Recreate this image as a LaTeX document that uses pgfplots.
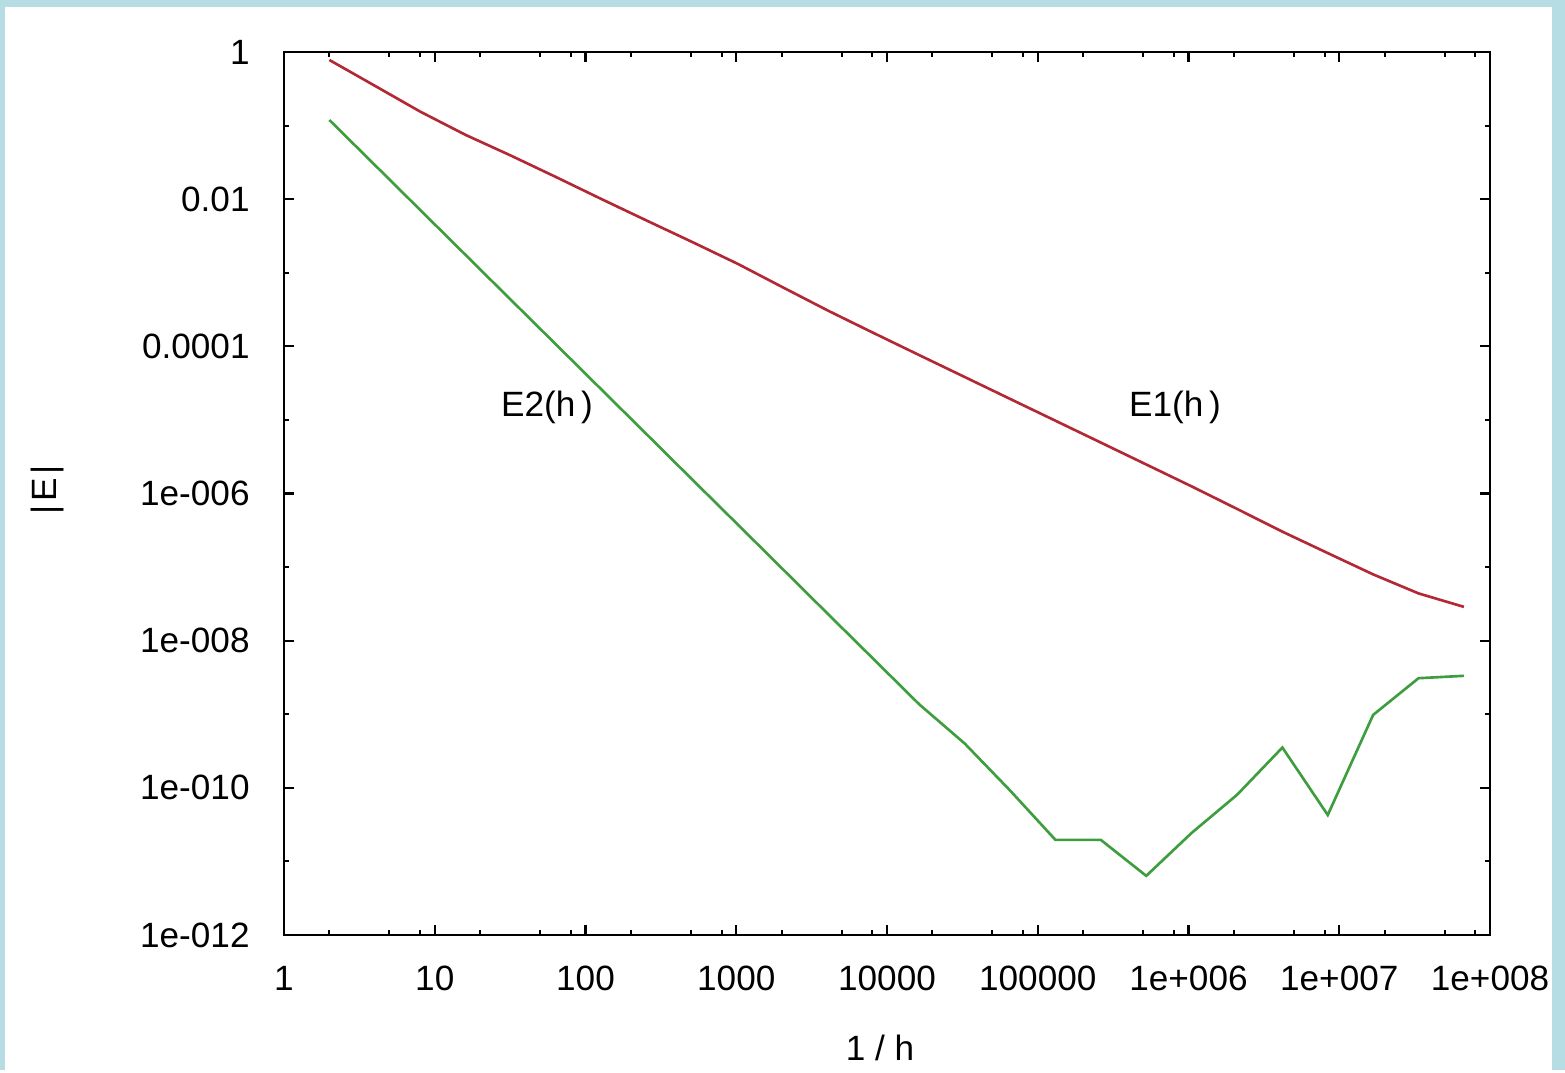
\documentclass[border=0pt]{standalone}
\usepackage{fontspec}
\setmainfont{Liberation Sans}
\usepackage{pgfplots}
\pgfplotsset{compat=1.18}
\definecolor{bgblue}{RGB}{182,221,227}
\definecolor{eone}{RGB}{178,40,52}
\definecolor{etwo}{RGB}{62,158,62}
\begin{document}
\begin{tikzpicture}
\fill[bgblue] (0,0) rectangle (156.5mm,107mm);
\fill[white] (0.5mm,0) rectangle (155.2mm,106.3mm);
\begin{axis}[
  at={(28.4mm,13.5mm)}, anchor=south west,
  scale only axis, width=120.6mm, height=88.3mm,
  xmode=log, ymode=log,
  xmin=1, xmax=1e8, ymin=1e-12, ymax=1,
  xtick={1,10,100,1000,10000,100000,1000000,10000000,100000000},
  xticklabels={1,10,100,1000,10000,100000,1e+006,1e+007,1e+008},
  ytick={1,1e-2,1e-4,1e-6,1e-8,1e-10,1e-12},
  yticklabels={1,0.01,0.0001,1e-006,1e-008,1e-010,1e-012},
  minor xtick={2,5,8,20,50,80,200,500,800,2000,5000,8000,20000,50000,80000,200000,500000,800000,2000000,5000000,8000000,20000000,50000000,80000000},
  minor ytick={1e-1,1e-3,1e-5,1e-7,1e-9,1e-11},
  tick align=inside,
  major tick length=1mm, minor tick length=0.55mm,
  every tick/.style={black, line width=0.6pt},
  axis line style={black, line width=0.6pt},
  ticklabel style={font=\fontsize{10}{12}\selectfont},
  xticklabel style={yshift=-1.9mm},
  yticklabel style={xshift=-2.2mm},
  clip=true,
]
\addplot[eone, line width=0.75pt] coordinates {
(2,0.779) (4,0.348) (8,0.155) (16,0.0748) (32,0.0391) (64,0.0199)
(128,0.0100) (256,0.00509) (512,0.00261) (1024,0.00132) (2048,6.3e-4)
(4096,3.03e-4) (8192,1.51e-4) (16384,7.59e-5) (32768,3.83e-5) (65536,1.93e-5)
(131072,9.75e-6) (262144,4.92e-6) (524288,2.48e-6) (1048576,1.25e-6)
(2097152,6.18e-7) (4194304,3.03e-7) (8388608,1.55e-7) (16777216,7.96e-8)
(33554432,4.39e-8) (67108864,2.88e-8)
};
\addplot[etwo, line width=0.75pt] coordinates {
(2,0.119) (4,0.0292) (8,0.00714) (16,0.00175) (32,4.28e-4) (64,1.05e-4)
(128,2.57e-5) (256,6.30e-6) (512,1.54e-6) (1024,3.78e-7) (2048,9.25e-8)
(4096,2.26e-8) (8192,5.55e-9) (16384,1.36e-9) (32768,4.0e-10) (65536,9.2e-11)
(131072,1.96e-11) (262144,1.96e-11) (524288,6.37e-12) (1048576,2.44e-11)
(2097152,8.03e-11) (4194304,3.53e-10) (8388608,4.28e-11) (16777216,9.8e-10)
(33554432,3.09e-9) (67108864,3.33e-9)
};
\node[font=\fontsize{10}{12}\selectfont] at (axis cs:55.6,1.46e-5) {E2(h\,)};
\node[font=\fontsize{10}{12}\selectfont] at (axis cs:8.13e5,1.46e-5) {E1(h\,)};
\end{axis}
\node[font=\fontsize{10}{12}\selectfont] at (88.0mm,2.2mm) {1 / h};
\node[font=\fontsize{10}{12}\selectfont, rotate=90] at (4.7mm,58mm) {|\kern1pt E\kern1pt|};
\end{tikzpicture}
\end{document}
